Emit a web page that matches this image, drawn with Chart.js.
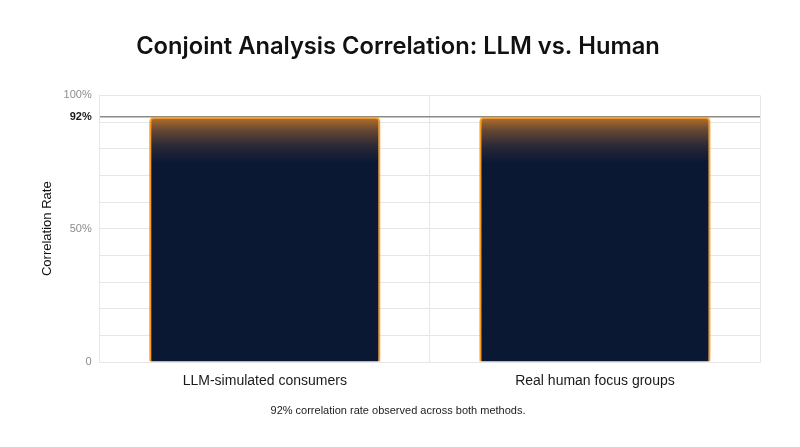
<!DOCTYPE html>
<html>
<head>
<meta charset="utf-8">
<script src="https://cdn.jsdelivr.net/npm/chart.js@4.4.1/dist/chart.umd.min.js"></script>
<style>
  html, body { margin: 0; padding: 0; background: #fff; }
  #wrap { width: 800px; height: 447px; }
</style>
</head>
<body>
<div id="wrap"><canvas id="corr-chart"></canvas></div>
<script>
    "use strict";

    // data
    var categories = ["LLM-simulated consumers", "Real human focus groups"];
    var correlation = [92, 92];
    var markerValue = 92;
    var tickValues = [0, 10, 20, 30, 40, 50, 60, 70, 80, 90, 92, 100];
    var tickLabels = { 0: "0", 50: "50%", 92: "92%", 100: "100%" };

    var navy = "#0a1833";
    var sans = "'Liberation Sans', Arial, sans-serif";

    // bar fill: warm at the top, fading into navy
    var barFill = function (context) {
        var chart = context.chart;
        var area = chart.chartArea;
        if (!area) return navy;
        var top = chart.scales.y.getPixelForValue(correlation[context.dataIndex] || 0);
        var g = chart.ctx.createLinearGradient(0, top, 0, top + 46);
        g.addColorStop(0, "rgba(185, 115, 40, 1)");
        g.addColorStop(0.3, "rgba(100, 70, 50, 1)");
        g.addColorStop(0.65, "rgba(40, 40, 55, 1)");
        g.addColorStop(1, navy);
        return g;
    };

    // orange glow round the bars
    var glow = {
        id: "glow",
        beforeDatasetsDraw: function (chart) {
            var ctx = chart.ctx;
            ctx.save();
            ctx.shadowColor = "rgba(255, 150, 20, 1)";
            ctx.shadowBlur = 16;
        },
        afterDatasetsDraw: function (chart) {
            chart.ctx.restore();
        },
    };

    var ctx1 = document.getElementById("corr-chart").getContext("2d");
    var myChart1 = new Chart(ctx1, {
        type: "bar",
        data: {
            labels: categories,
            datasets: [
                {
                    label: "Correlation Rate",
                    data: correlation,
                    backgroundColor: barFill,
                    borderColor: "#f7a32c",
                    borderWidth: 2,
                    borderSkipped: "bottom",
                    borderRadius: { topLeft: 5, topRight: 5 },
                    categoryPercentage: 1,
                    barPercentage: 0.7,
                },
            ],
        },
        plugins: [glow],
        options: {
            responsive: true,
            maintainAspectRatio: false,
            animation: false,
            layout: { padding: { left: 36, right: 40, bottom: 0 } },
            plugins: {
                legend: { display: false },
                tooltip: { enabled: false },
                title: {
                    display: true,
                    text: "Conjoint Analysis Correlation: LLM vs. Human",
                    color: "#111",
                    font: { family: "Inter", size: 23.7, weight: "600" },
                    padding: { top: 33, bottom: 34 },
                },
                subtitle: {
                    display: true,
                    position: "bottom",
                    text: "92% correlation rate observed across both methods.",
                    color: "#222",
                    font: { family: sans, size: 11, weight: "400" },
                    padding: { top: 4, bottom: 29 },
                },
            },
            scales: {
                x: {
                    grid: { color: "#e6e6e6", drawTicks: false },
                    border: { color: "#e6e6e6" },
                    ticks: {
                        color: "#1a1a1a",
                        padding: 11,
                        font: { family: sans, size: 14 },
                    },
                },
                y: {
                    min: 0,
                    max: 100,
                    afterBuildTicks: function (scale) {
                        scale.ticks = tickValues.map(function (v) {
                            return { value: v };
                        });
                    },
                    grid: {
                        drawTicks: false,
                        color: function (c) {
                            return c.tick && c.tick.value === markerValue ? "#8a8a8a" : "#e6e6e6";
                        },
                        lineWidth: function (c) {
                            return c.tick && c.tick.value === markerValue ? 1.5 : 1;
                        },
                    },
                    border: { color: "#e6e6e6" },
                    ticks: {
                        padding: 8,
                        autoSkip: false,
                        callback: function (value) {
                            return tickLabels[value] !== undefined ? tickLabels[value] : "";
                        },
                        color: function (c) {
                            return c.tick && c.tick.value === markerValue ? "#1a1a1a" : "#8c8c8c";
                        },
                        font: function (c) {
                            var bold = c.tick && c.tick.value === markerValue;
                            return { family: sans, size: 11, weight: bold ? "700" : "400" };
                        },
                    },
                    title: {
                        display: true,
                        text: "Correlation Rate",
                        color: "#111",
                        font: { family: sans, size: 13 },
                        padding: { top: 4, bottom: 0 },
                    },
                },
            },
        },
    });
</script>
</body>
</html>
